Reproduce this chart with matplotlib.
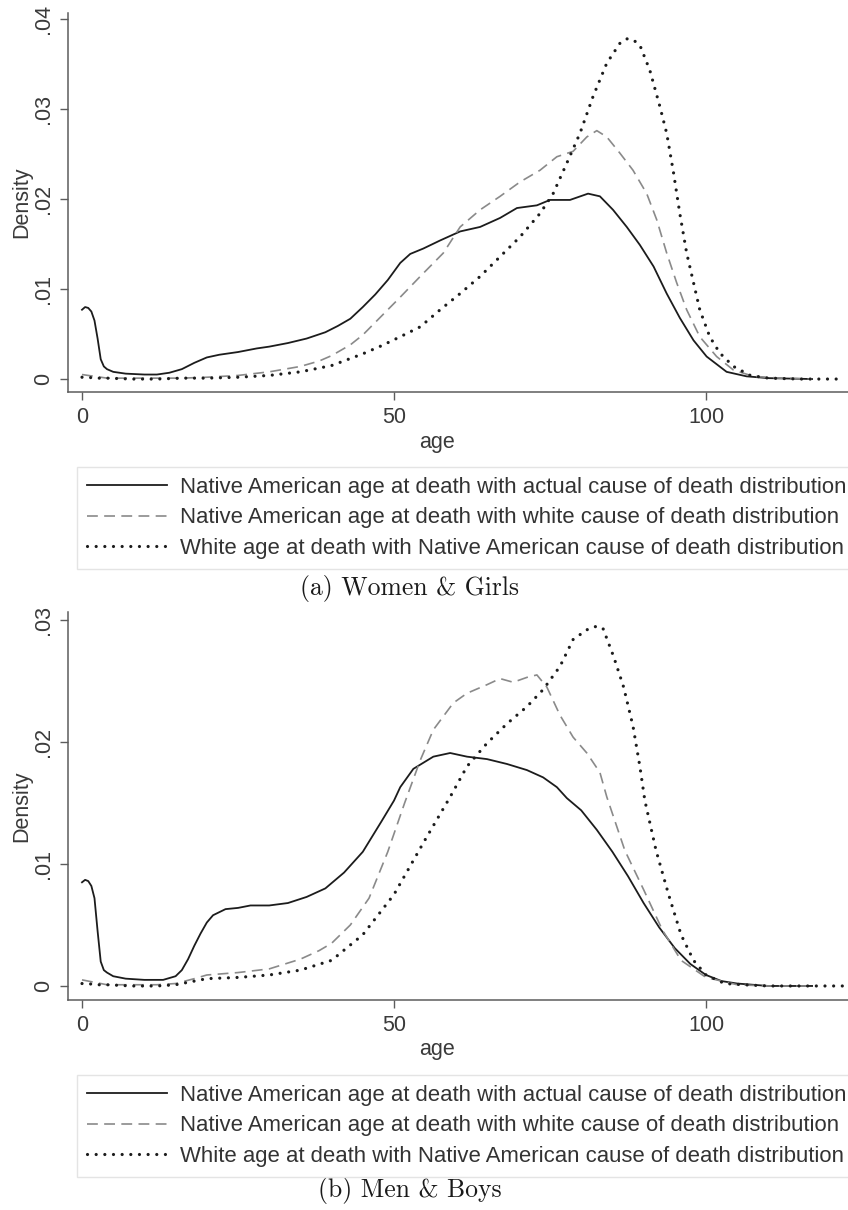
import matplotlib
matplotlib.use("Agg")
from matplotlib import pyplot as plt
from matplotlib.lines import Line2D

plt.rcParams['font.family'] = ['Liberation Sans', 'DejaVu Sans']

W, H = 848, 1210

# ---- Women & Girls ----
f_na_age = [0, 0.5, 1, 1.5, 2, 2.5, 3, 3.5, 4, 5, 7, 10, 12, 14, 16, 18, 20, 22, 25, 28, 30, 33, 36, 39,
            41, 43, 45, 47, 49, 51, 52.6, 54.7, 57.4, 60.6, 63.8, 67, 69.7, 72.9, 75, 78.2, 81.1, 83,
            85.1, 87.3, 89.4, 91.6, 93.7, 95.8, 98, 100.1, 103.3, 106.5, 110, 117]
f_na_val = [0.0077, 0.0080, 0.0079, 0.0075, 0.0065, 0.0045, 0.0022, 0.0014, 0.0011, 0.0008, 0.0006,
            0.0005, 0.0005, 0.0007, 0.0011, 0.0018, 0.0024, 0.0027, 0.0030, 0.0034, 0.0036, 0.0040,
            0.0045, 0.0052, 0.0059, 0.0067, 0.0080, 0.0094, 0.0110, 0.0129, 0.0139, 0.0145, 0.0154,
            0.0164, 0.0169, 0.0179, 0.0190, 0.0193, 0.0199, 0.0199, 0.0206, 0.0203, 0.0188, 0.0169,
            0.0149, 0.0125, 0.0095, 0.0068, 0.0043, 0.0025, 0.0008, 0.0003, 0.0001, 0.0000]

f_wcod_age = [0, 1, 2, 4, 8, 12, 16, 20, 25, 30, 35, 38, 40, 43, 45, 48, 51, 54.2, 57.9, 60.6, 63.8,
              67, 70.2, 73.4, 76.1, 78.7, 80.9, 82.5, 84.1, 86.2, 88.3, 90.5, 92.1, 93.7, 95.3, 96.9,
              99, 101.7, 104.4, 107.6, 112, 117]
f_wcod_val = [0.0005, 0.0004, 0.0003, 0.0001, 0.0001, 0.0001, 0.0001, 0.0002, 0.0004, 0.0008, 0.0014,
              0.0020, 0.0026, 0.0038, 0.0049, 0.0070, 0.0091, 0.0114, 0.0140, 0.0169, 0.0188, 0.0203,
              0.0219, 0.0232, 0.0247, 0.0253, 0.0269, 0.0276, 0.0269, 0.0251, 0.0232, 0.0206, 0.0177,
              0.0140, 0.0107, 0.0077, 0.0047, 0.0025, 0.0010, 0.0003, 0.0001, 0.0000]

f_white_age = [0, 1, 2, 4, 8, 12, 16, 20, 25, 30, 35, 40, 45, 48, 51, 54.2, 57.4, 60.6, 63.8, 67,
               70.2, 73.4, 75.5, 77.7, 79.8, 81.9, 84.1, 86.2, 87.3, 88.3, 89.4, 91, 92.6, 93.7, 94.8,
               95.8, 96.9, 98, 99, 100.6, 102.2, 104.4, 107.1, 110, 115, 121]
f_white_val = [0.0002, 0.0002, 0.0001, 0.0001, 0.0000, 0.0000, 0.0001, 0.0001, 0.0002, 0.0004, 0.0008,
               0.0015, 0.0028, 0.0037, 0.0047, 0.0058, 0.0077, 0.0095, 0.0114, 0.0136, 0.0158, 0.0184,
               0.0206, 0.0240, 0.0273, 0.0314, 0.0351, 0.0373, 0.0378, 0.0377, 0.0371, 0.0343, 0.0303,
               0.0273, 0.0229, 0.0184, 0.0140, 0.0107, 0.0077, 0.0047, 0.0029, 0.0014, 0.0004, 0.0001,
               0.0000, 0.0000]

# ---- Men & Boys ----
m_na_age = [0, 0.5, 1, 1.5, 2, 2.5, 3, 3.5, 4, 5, 7, 10, 13, 15, 16, 17, 18, 19, 20, 21, 23, 25, 27,
            30, 33, 36, 39, 42, 45, 48, 50, 51, 53.1, 56.3, 59, 61.7, 64.9, 68.1, 71.3, 73.9, 76.1,
            77.7, 80, 82.5, 85, 87.5, 90, 92.5, 95, 97.5, 100, 102.5, 105, 110, 117]
m_na_val = [0.0085, 0.0087, 0.0086, 0.0082, 0.0072, 0.0045, 0.0020, 0.0013, 0.0011, 0.0008, 0.0006,
            0.0005, 0.0005, 0.0008, 0.0013, 0.0022, 0.0033, 0.0043, 0.0052, 0.0058, 0.0063, 0.0064,
            0.0066, 0.0066, 0.0068, 0.0073, 0.0080, 0.0093, 0.0110, 0.0135, 0.0152, 0.0163, 0.0178,
            0.0188, 0.0191, 0.0188, 0.0186, 0.0182, 0.0177, 0.0171, 0.0163, 0.0154, 0.0144, 0.0128,
            0.0110, 0.0090, 0.0068, 0.0048, 0.0031, 0.0018, 0.0009, 0.0004, 0.0002, 0.0000, 0.0000]

m_wcod_age = [0, 1, 2, 4, 8, 12, 15, 18, 20, 25, 30, 35, 38, 40, 43, 46, 49, 51.7, 54.2, 56.3, 59.5,
              61.7, 64.9, 67, 69.1, 71.3, 72.9, 74.5, 76.6, 78.7, 80.9, 83, 84.1, 87, 90, 93, 96, 100,
              105, 110, 117]
m_wcod_val = [0.0005, 0.0004, 0.0003, 0.0001, 0.0001, 0.0001, 0.0002, 0.0006, 0.0009, 0.0011, 0.0014,
              0.0022, 0.0029, 0.0035, 0.0050, 0.0072, 0.0110, 0.0150, 0.0185, 0.0210, 0.0232, 0.0240,
              0.0247, 0.0252, 0.0249, 0.0253, 0.0255, 0.0245, 0.0222, 0.0204, 0.0191, 0.0175, 0.0155,
              0.0111, 0.0079, 0.0046, 0.0021, 0.0007, 0.0001, 0.0000, 0.0000]

m_white_age = [0, 1, 2, 4, 8, 12, 15, 18, 20, 25, 30, 35, 40, 45, 50, 55, 59, 61.7, 64.9, 68.1, 71.3,
               73.9, 76.6, 78.7, 80.9, 82.5, 83.5, 85.2, 86.8, 88.3, 89.4, 90.2, 92, 94, 96, 98, 100,
               103, 106, 110, 118, 125]
m_white_val = [0.0002, 0.0002, 0.0001, 0.0001, 0.0000, 0.0000, 0.0001, 0.0004, 0.0006, 0.0007, 0.0009,
               0.0013, 0.0021, 0.0042, 0.0075, 0.0120, 0.0155, 0.0180, 0.0199, 0.0215, 0.0229, 0.0243,
               0.0262, 0.0284, 0.0292, 0.0295, 0.0293, 0.0270, 0.0245, 0.0213, 0.0180, 0.0152, 0.0111,
               0.0075, 0.0042, 0.0021, 0.0009, 0.0002, 0.0001, 0.0000, 0.0000, 0.0000]

labels = ["Native American age at death with actual cause of death distribution",
          "Native American age at death with white cause of death distribution",
          "White age at death with Native American cause of death distribution"]

f_ticks = [0, 0.01, 0.02, 0.03, 0.04]
f_ticklabels = ["0", ".01", ".02", ".03", ".04"]
m_ticks = [0, 0.01, 0.02, 0.03]
m_ticklabels = ["0", ".01", ".02", ".03"]
x_ticks = [0, 50, 100]

# line styles
styles = [dict(color='#1c1c1c', lw=1.3, ls='-'),
          dict(color='#8a8a8a', lw=1.2, ls=(0, (6.5, 3.8))),
          dict(color='#1c1c1c', lw=2.3, ls=(0, (0.01, 2.7)), dash_capstyle='round')]

axcol = '#5c5c5c'
txtcol = '#3a3a3a'


def box(left, top, right, bottom):
    return [left / W, 1 - bottom / H, (right - left) / W, (bottom - top) / H]


def fx(px):
    return px / W


def fy(py):
    return 1 - py / H


fig = plt.figure(figsize=(W / 100, H / 100), dpi=100)


def panel(top, bottom, ylim, yticks, yticklabels, series, legend_top, caption, cap_y):
    ax = fig.add_axes(box(68, top, 868, bottom))
    for (x, y), st in zip(series, styles):
        ax.plot(x, y, **st)
    ax.set_xlim(-2.244, 125.96)
    ax.set_ylim(*ylim)
    for s in ['top', 'right']:
        ax.spines[s].set_visible(False)
    for s in ['left', 'bottom']:
        ax.spines[s].set_color(axcol)
        ax.spines[s].set_linewidth(1.1)
    ax.set_xticks(x_ticks)
    ax.set_xticklabels([str(t) for t in x_ticks])
    ax.set_yticks(yticks)
    ax.set_yticklabels(yticklabels, rotation=90, va='center')
    ax.tick_params(axis='both', length=5.8, width=1.0, color=axcol, labelcolor=txtcol,
                   labelsize=15.5)
    ax.tick_params(axis='y', pad=4)
    ax.tick_params(axis='x', pad=5)
    fig.text(fx(22), fy((top + bottom) / 2), "Density", rotation=90, ha='center', va='center',
             fontsize=15.5, color=txtcol)
    fig.text(fx(437), fy(bottom + 50), "age", ha='center', va='center', fontsize=15.5, color=txtcol)

    # the legend runs past the right edge, as in the source figure
    handles = [Line2D([], [], **st) for st in styles]
    leg = fig.legend(handles, labels, loc='upper left', bbox_to_anchor=(fx(77), fy(legend_top)),
                     bbox_transform=fig.transFigure, borderaxespad=0, fontsize=15.95,
                     frameon=True, fancybox=False, framealpha=1, edgecolor='#e4e4e4',
                     borderpad=0.45, handlelength=3.6, handletextpad=0.58, labelspacing=0.43,
                     labelcolor='#333333')
    leg.get_frame().set_linewidth(1.0)
    fig.text(fx(410), fy(cap_y), caption, ha='center', va='center', fontsize=18.5,
             family='cmr10', color='#1a1a1a')
    return ax


panel(13, 392, (-0.00144, 0.04067), f_ticks, f_ticklabels,
      [(f_na_age, f_na_val), (f_wcod_age, f_wcod_val), (f_white_age, f_white_val)],
      467, "(a) Women & Girls", 589)

panel(612, 1000, (-0.00115, 0.03066), m_ticks, m_ticklabels,
      [(m_na_age, m_na_val), (m_wcod_age, m_wcod_val), (m_white_age, m_white_val)],
      1075, "(b) Men & Boys", 1191)

fig.savefig("out.png", dpi=100)
